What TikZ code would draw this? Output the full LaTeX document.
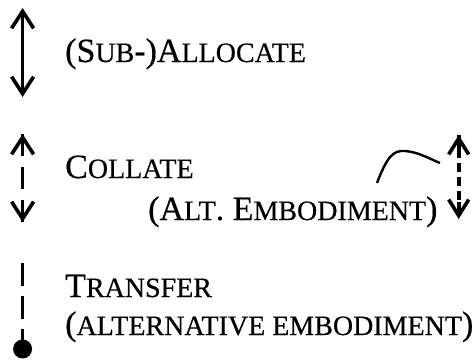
\documentclass[tikz,border=0pt]{standalone}
\usepackage{fontspec}
\setmainfont{Liberation Serif}
\newfontfamily\tms{Liberation Serif}[FakeBold=0.4]
\usetikzlibrary{arrows.meta}
\newcommand\smc{\fontsize{28}{32}\selectfont}
\tikzset{
  lbl/.style={anchor=base west, inner sep=0pt, font=\tms\fontsize{34}{40}\selectfont},
  thk/.style={line width=3.6pt},
  barb/.style={-{Straight Barb[length=17pt,width=22pt]}},
  dbarb/.style={{Straight Barb[length=17pt,width=22pt]}-{Straight Barb[length=17pt,width=22pt]}},
  sbarb/.style={-{Straight Barb[length=16pt,width=20pt]}},
}
\begin{document}
\begin{tikzpicture}[x=1pt,y=-1pt]
\useasboundingbox (0,0) rectangle (476,362);
% row 1
\coordinate (a1) at (22.6,8);
\coordinate (b1) at (22.6,97);
\draw[thk,dbarb] (a1) -- (b1);
\node[lbl] (t1) at (65,62) {(S{\smc UB}-)A{\smc LLOCATE}};
% row 2
\coordinate (a2) at (22.6,134);
\coordinate (a2i) at (22.6,152);
\coordinate (b2) at (22.6,222);
\coordinate (b2i) at (22.6,204);
\draw[thk,dash pattern=on 22pt off 11pt] (a2) -- (b2);
\draw[thk,barb] (a2i) -- (a2);
\draw[thk,barb] (b2i) -- (b2);
\node[lbl] (t2) at (65,178) {C{\smc OLLATE}};
\node[lbl] (t3) at (148,220) {(A{\smc LT}. E{\smc MBODIMENT})};
% right arrow
\coordinate (a3) at (458.7,135);
\coordinate (a3i) at (458.7,152);
\coordinate (b3) at (458.7,219);
\coordinate (b3i) at (458.7,202);
\draw[thk,dash pattern=on 9pt off 5pt] (a3) -- (b3);
\draw[thk,sbarb] (a3i) -- (a3);
\draw[thk,sbarb] (b3i) -- (b3);
\coordinate (c0) at (377,183);
\coordinate (c1) at (405,151);
\coordinate (c2) at (440,163);
\draw[line width=2.4pt] (c0) .. controls (387,157) and (393,150) .. (c1)
  .. controls (418,152) and (428,158) .. (c2);
% row 3
\coordinate (a4) at (22.6,263);
\node[circle, fill=black, inner sep=0pt, minimum size=19pt] (dot) at (22.6,349) {};
\draw[thk,dash pattern=on 23pt off 10pt] (a4) -- (dot.center);
\node[lbl] (t4) at (65,297) {T{\smc RANSFER}};
\node[lbl] (t5) at (65,335) {({\smc ALTERNATIVE EMBODIMENT})};
\end{tikzpicture}
\end{document}
